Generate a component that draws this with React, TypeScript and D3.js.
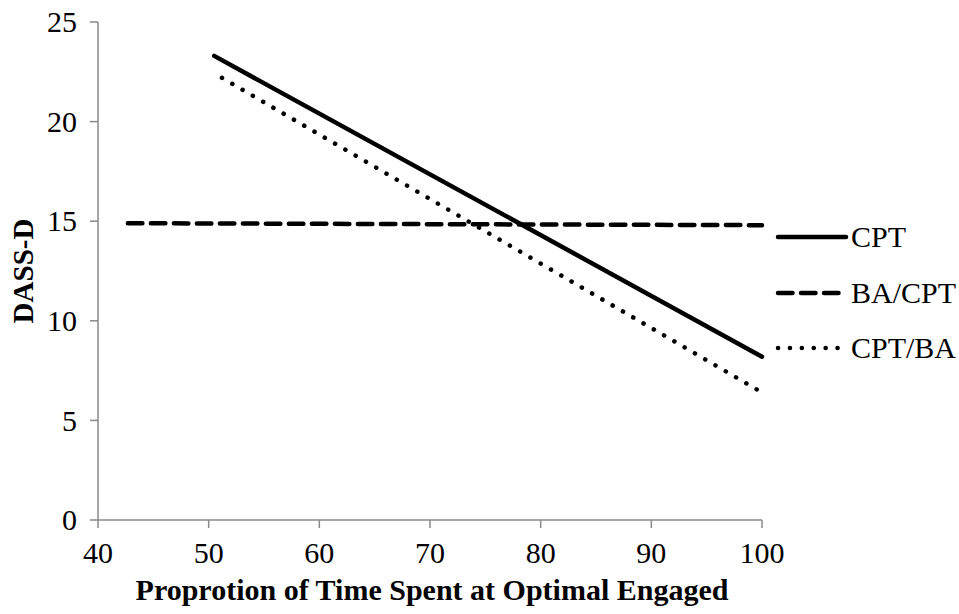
import React from "react";
import * as d3 from "d3";

const xTicks = [40, 50, 60, 70, 80, 90, 100];
const yTicks = [0, 5, 10, 15, 20, 25];

const seriesNames = ["CPT", "BA/CPT", "CPT/BA"];
const cptPoints: [number, number][] = [[50.5, 23.3], [100, 8.2]];
const baCptPoints: [number, number][] = [[42.7, 14.9], [100, 14.8]];
const cptBaPoints: [number, number][] = [[51.2, 22.2], [100, 6.4]];

const xTitle = "Proprotion of Time Spent at Optimal Engaged";
const yTitle = "DASS-D";

export default function App() {
  const W = 959, H = 614;
  const x = d3.scaleLinear().domain([40, 100]).range([98, 762]);
  const y = d3.scaleLinear().domain([0, 25]).range([520, 22]);
  const line = d3.line<[number, number]>().x(d => x(d[0])).y(d => y(d[1]));
  const font = "'Liberation Serif', 'Times New Roman', serif";
  const axisColor = "#898989";
  const fs = 30;
  const styles = [
    { dash: undefined, cap: "round" },
    { dash: "14.5 8.5", cap: "round" },
    { dash: "0.1 11.8", cap: "round" },
  ];
  const data = [cptPoints, baCptPoints, cptBaPoints];
  const legendY = [237, 293, 348];
  return (
    <svg width={W} height={H} style={{ position: "absolute", left: 0, top: 0, background: "#fff" }}>
      <rect width={W} height={H} fill="#fff" />
      <line x1={x(40)} x2={x(40)} y1={y(25)} y2={y(0)} stroke={axisColor} strokeWidth={1.5} />
      <line x1={x(40)} x2={x(100)} y1={y(0)} y2={y(0)} stroke={axisColor} strokeWidth={1.5} />
      {yTicks.map(t => (
        <g key={"y" + t}>
          <line x1={x(40) - 8} x2={x(40)} y1={y(t)} y2={y(t)} stroke={axisColor} strokeWidth={1.5} />
          <text x={77} y={y(t)} dy="0.34em" textAnchor="end" fontFamily={font} fontSize={fs}>{t}</text>
        </g>
      ))}
      {xTicks.map(t => (
        <g key={"x" + t}>
          <line x1={x(t)} x2={x(t)} y1={y(0)} y2={y(0) + 8} stroke={axisColor} strokeWidth={1.5} />
          <text x={x(t)} y={563} textAnchor="middle" fontFamily={font} fontSize={fs}>{t}</text>
        </g>
      ))}
      {data.map((d, i) => (
        <path key={i} d={line(d) || ""} fill="none" stroke="#000" strokeWidth={4.5}
          strokeDasharray={styles[i].dash} strokeLinecap={styles[i].cap as any} />
      ))}
      {seriesNames.map((n, i) => (
        <g key={n}>
          <line x1={778} x2={846} y1={legendY[i]} y2={legendY[i]} stroke="#000" strokeWidth={4.5}
            strokeDasharray={styles[i].dash} strokeLinecap="round" />
          <text x={851} y={legendY[i]} dy="0.34em" fontFamily={font} fontSize={fs}>{n}</text>
        </g>
      ))}
      <text x={432} y={600} textAnchor="middle" fontFamily={font} fontSize={fs} fontWeight="bold">{xTitle}</text>
      <text transform={`translate(33, 271) rotate(-90)`} textAnchor="middle" fontFamily={font} fontSize={29} fontWeight="bold">{yTitle}</text>
    </svg>
  );
}
